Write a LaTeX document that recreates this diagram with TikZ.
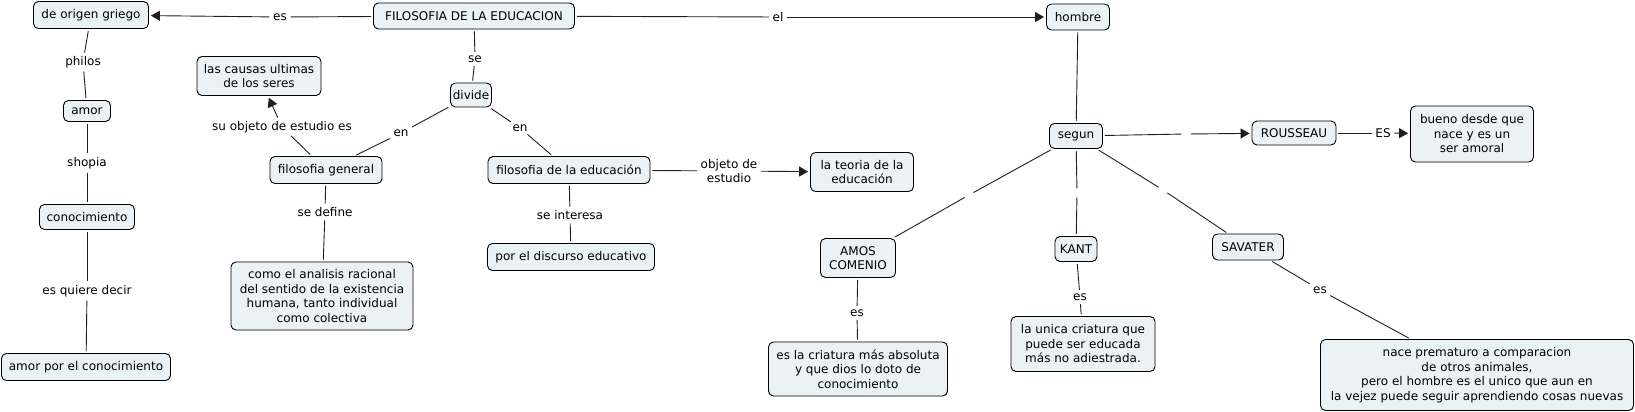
\documentclass[tikz,border=0pt]{standalone}
\usepackage{fontspec}
\setmainfont{DejaVu Sans}
\usetikzlibrary{arrows.meta}
\definecolor{boxfill}{RGB}{235,242,245}
\definecolor{linec}{RGB}{30,30,30}
\begin{document}
\begin{tikzpicture}[x=1pt,y=-1pt,
 every node/.style={font=\fontsize{12}{14.5}\selectfont},
 box/.style={draw=black, fill=boxfill, rounded corners=5pt, line width=0.9pt, align=center, inner sep=1pt},
 lbl/.style={fill=white, inner sep=1.5pt, align=center},
 gapn/.style={inner sep=0pt, minimum width=5pt, minimum height=5pt},
 con/.style={draw=linec, line width=0.9pt, shorten <=2pt, shorten >=2pt},
 arr/.style={con, -{Triangle[length=9pt,width=10pt]}}
]
\useasboundingbox (0,0) rectangle (1635,412);
% concept boxes
\node[box, minimum width=115pt, minimum height=27pt] (origen) at (91,15) {de origen griego};
\node[box, minimum width=201pt, minimum height=26pt] (fil) at (474,16) {FILOSOFIA DE LA EDUCACION};
\node[box, minimum width=63pt, minimum height=26pt] (hombre) at (1078,17) {hombre};
\node[box, minimum width=124pt, minimum height=39pt] (causas) at (259,76) {las causas ultimas\\de los seres};
\node[box, minimum width=41pt, minimum height=24pt] (divide) at (471,95) {divide};
\node[box, minimum width=47pt, minimum height=21pt] (amor) at (87,111) {amor};
\node[box, minimum width=112pt, minimum height=27pt] (filgen) at (326,170) {filosofia general};
\node[box, minimum width=162pt, minimum height=27pt] (fileduc) at (569,170) {filosofia de la educación};
\node[box, minimum width=103pt, minimum height=39pt] (teoria) at (862,172) {la teoria de la\\educación};
\node[box, minimum width=95pt, minimum height=25pt] (conoc) at (87,217) {conocimiento};
\node[box, minimum width=167pt, minimum height=27pt] (discurso) at (571,257) {por el discurso educativo};
\node[box, minimum width=182pt, minimum height=68pt] (como) at (322,296) {como el analisis racional\\del sentido de la existencia\\humana, tanto individual\\como colectiva};
\node[box, minimum width=169pt, minimum height=27pt] (amorpor) at (86,367) {amor por el conocimiento};
\node[box, minimum width=53pt, minimum height=25pt] (segun) at (1076,136) {segun};
\node[box, minimum width=84pt, minimum height=24pt] (rousseau) at (1294,133) {ROUSSEAU};
\node[box, minimum width=123pt, minimum height=56pt] (bueno) at (1472,134) {bueno desde que\\nace y es un\\ser amoral};
\node[box, minimum width=75pt, minimum height=39pt] (amos) at (858,258) {AMOS\\COMENIO};
\node[box, minimum width=42pt, minimum height=25pt] (kant) at (1076,249) {KANT};
\node[box, minimum width=71pt, minimum height=26pt] (savater) at (1248,247) {SAVATER};
\node[box, minimum width=179pt, minimum height=54pt] (criatura) at (858,369) {es la criatura más absoluta\\y que dios lo doto de\\conocimiento};
\node[box, minimum width=144pt, minimum height=55pt] (unica) at (1083,344) {la unica criatura que\\puede ser educada\\más no adiestrada.};
\node[box, minimum width=313pt, minimum height=71pt] (nace) at (1477,375) {nace prematuro a comparacion\\de otros animales,\\pero el hombre es el unico que aun en\\la vejez puede seguir aprendiendo cosas nuevas};
% link labels
\node[lbl] (l1) at (280,17) {es};
\node[lbl] (l2) at (778,17) {el};
\node[lbl] (l3) at (475,59) {se};
\node[lbl] (l4) at (401,133) {en};
\node[lbl] (l5) at (520,128) {en};
\node[lbl] (l6) at (282,127) {su objeto de estudio es};
\node[lbl] (l7) at (325,212) {se define};
\node[lbl] (l8) at (570,215) {se interesa};
\node[lbl] (l9) at (729,171) {objeto de\\estudio};
\node[lbl] (l10) at (83,62) {philos};
\node[lbl] (l11) at (87,163) {shopia};
\node[lbl] (l12) at (87,291) {es quiere decir};
\node[lbl] (l13) at (1383,133) {ES};
\node[lbl] (l14) at (857,313) {es};
\node[lbl] (l15) at (1080,297) {es};
\node[lbl] (l16) at (1320,290) {es};
\node[gapn] (g1) at (1186,134) {};
\node[gapn] (g2) at (969,195) {};
\node[gapn] (g3) at (1077,193) {};
\node[gapn] (g4) at (1163,190) {};
% connectors
\draw[con] (fil) -- (l1); \draw[arr] (l1) -- (origen);
\draw[con] (fil) -- (l2); \draw[arr] (l2) -- (hombre);
\draw[con] (fil) -- (l3); \draw[con] (l3) -- (divide);
\draw[con] (divide) -- (l4); \draw[con] (l4) -- (filgen);
\draw[con] (divide) -- (l5); \draw[con] (l5) -- (fileduc);
\draw[con] (filgen) -- (l6); \draw[arr] (l6) -- (causas);
\draw[con] (filgen) -- (l7); \draw[con] (l7) -- (como);
\draw[con] (fileduc) -- (l8); \draw[con] (l8) -- (discurso);
\draw[con] (fileduc) -- (l9); \draw[arr] (l9) -- (teoria);
\draw[con] (origen) -- (l10); \draw[con] (l10) -- (amor);
\draw[con] (amor) -- (l11); \draw[con] (l11) -- (conoc);
\draw[con] (conoc) -- (l12); \draw[con] (l12) -- (amorpor);
\draw[con] (hombre) -- (segun);
\draw[con] (segun) -- (g1); \draw[arr] (g1) -- (rousseau);
\draw[con] (rousseau) -- (l13); \draw[arr] (l13) -- (bueno);
\draw[con] (segun) -- (g2); \draw[con] (g2) -- (amos);
\draw[con] (segun) -- (g3); \draw[con] (g3) -- (kant);
\draw[con] (segun) -- (g4); \draw[con] (g4) -- (savater);
\draw[con] (amos) -- (l14); \draw[con] (l14) -- (criatura);
\draw[con] (kant) -- (l15); \draw[con] (l15) -- (unica);
\draw[con] (savater) -- (l16); \draw[con] (l16) -- (nace);
\end{tikzpicture}
\end{document}
